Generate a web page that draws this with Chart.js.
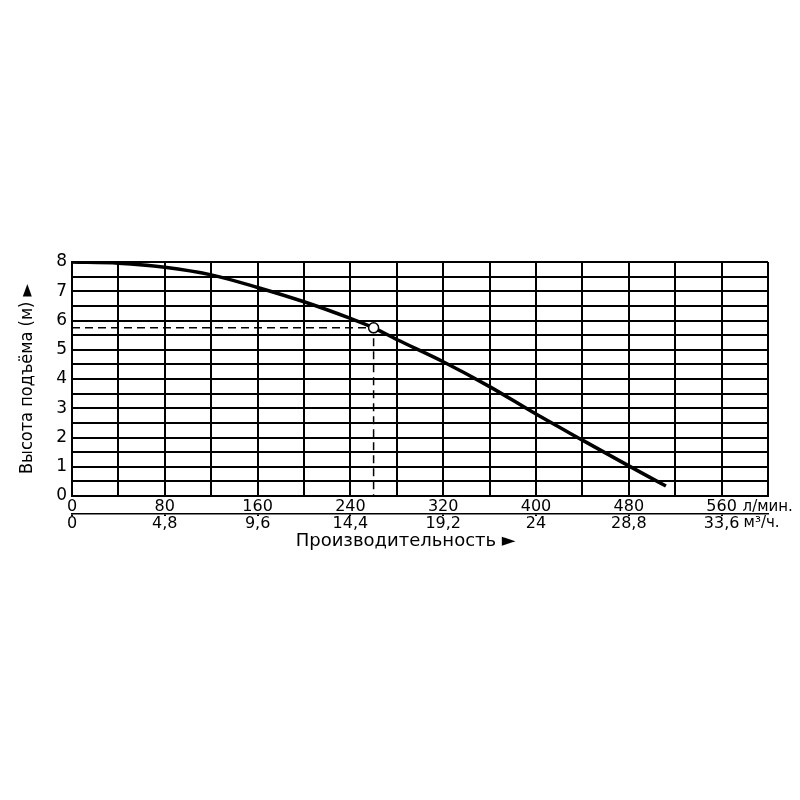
<!DOCTYPE html>
<html>
<head>
<meta charset="utf-8">
<script src="https://cdn.jsdelivr.net/npm/chart.js@4.4.1/dist/chart.umd.min.js"></script>
<style>
  html, body { margin: 0; padding: 0; background: #fff; }
  canvas { display: block; }
</style>
</head>
<body>
<canvas id="pumpChart" width="800" height="800"></canvas>
<script>
// pump curve: head (m) against flow (l/min)
var flowLpm = [0, 40, 80, 120, 160, 200, 240, 260, 280, 320, 360, 400, 440, 480, 512];
var headM = [8, 7.96, 7.82, 7.56, 7.13, 6.64, 6.07, 5.75, 5.35, 4.59, 3.74, 2.8, 1.91, 1.03, 0.34];

// operating point with the dashed guide lines
var dutyFlow = 260;
var dutyHead = 5.75;

// tick labels
var lpmTicks = [0, 80, 160, 240, 320, 400, 480, 560];
var m3hTicks = [0, 4.8, 9.6, 14.4, 19.2, 24, 28.8, 33.6];
var headTicks = [0, 1, 2, 3, 4, 5, 6, 7, 8];

var curve = [];
for (var i = 0; i < flowLpm.length; i++) {
    curve.push({ x: flowLpm[i], y: headM[i] });
}

var tickFont = { family: '"DejaVu Sans", sans-serif', size: 16, lineHeight: 1 };

// units after the last tick of each x axis
var unitsPlugin = {
    id: 'units',
    afterDraw: function (chart) {
        var ctx = chart.ctx;
        var x = chart.scales.x;
        var x2 = chart.scales.x2;
        ctx.save();
        ctx.font = '15px "DejaVu Sans", sans-serif';
        ctx.fillStyle = '#000';
        ctx.textBaseline = 'middle';
        ctx.textAlign = 'left';
        ctx.fillText('л/мин.', x.getPixelForValue(560) + 21, x.top + 11);
        ctx.fillText('м³/ч.', x2.getPixelForValue(33.6) + 22, x2.top + 9);
        ctx.restore();
    }
};

const data = {
    datasets: [
        {
            data: [{ x: dutyFlow, y: dutyHead }],
            showLine: false,
            pointRadius: 5,
            pointBackgroundColor: '#fff',
            pointBorderColor: '#000',
            pointBorderWidth: 1.5
        },
        {
            data: curve,
            borderColor: '#000',
            borderWidth: 3.5,
            cubicInterpolationMode: 'monotone',
            pointRadius: 0
        },
        {
            data: [{ x: 0, y: dutyHead }, { x: dutyFlow, y: dutyHead }, { x: dutyFlow, y: 0 }],
            borderColor: '#000',
            borderWidth: 1.5,
            borderDash: [8, 5],
            pointRadius: 0,
            tension: 0
        }
    ]
};

const config = {
    type: 'line',
    data: data,
    plugins: [unitsPlugin],
    options: {
        responsive: false,
        animation: false,
        layout: { padding: { top: 262, left: 0, right: 32, bottom: 246 } },
        plugins: {
            legend: { display: false },
            tooltip: { enabled: false }
        },
        scales: {
            x: {
                type: 'linear',
                position: 'bottom',
                min: 0,
                max: 600,
                afterFit: function (scale) { scale.height = 18; },
                ticks: {
                    stepSize: 40,
                    autoSkip: false,
                    maxRotation: 0,
                    padding: 3,
                    color: '#000',
                    font: tickFont,
                    callback: function (v) { return lpmTicks.indexOf(v) >= 0 ? String(v) : ''; }
                },
                grid: { color: '#000', lineWidth: 2, drawTicks: false },
                border: { color: '#000', width: 2 }
            },
            x2: {
                type: 'linear',
                position: 'bottom',
                min: 0,
                max: 36,
                afterFit: function (scale) { scale.height = 40; },
                afterBuildTicks: function (scale) {
                    scale.ticks = m3hTicks.map(function (v) { return { value: v }; });
                },
                ticks: {
                    autoSkip: false,
                    maxRotation: 0,
                    padding: 0,
                    color: '#000',
                    font: tickFont,
                    callback: function (v) { return String(v).replace('.', ','); }
                },
                grid: { drawOnChartArea: false, color: '#000', lineWidth: 2, tickLength: 2 },
                border: { color: '#000', width: 1.5 },
                title: {
                    display: true,
                    text: 'Производительность ►\u00a0\u00a0\u00a0\u00a0\u00a0',
                    color: '#000',
                    font: { family: '"DejaVu Sans", sans-serif', size: 18 },
                    padding: { top: 0, bottom: 2 }
                }
            },
            y: {
                min: 0,
                max: 8,
                afterFit: function (scale) { scale.width = 72; },
                ticks: {
                    stepSize: 0.5,
                    autoSkip: false,
                    padding: 5,
                    color: '#000',
                    font: { family: '"DejaVu Sans", sans-serif', size: 17 },
                    callback: function (v) { return headTicks.indexOf(v) >= 0 ? String(v) : ''; }
                },
                grid: { color: '#000', lineWidth: 2, drawTicks: false },
                border: { color: '#000', width: 2 },
                title: {
                    display: true,
                    text: 'Высота подъёма (м) ►',
                    color: '#000',
                    font: { family: '"DejaVu Sans Condensed", "Liberation Sans", sans-serif', size: 18 },
                    padding: { top: 17, bottom: 0 }
                }
            }
        }
    }
};

var ctx = document.getElementById('pumpChart').getContext('2d');
var pumpChart = new Chart(ctx, config);
</script>
</body>
</html>
